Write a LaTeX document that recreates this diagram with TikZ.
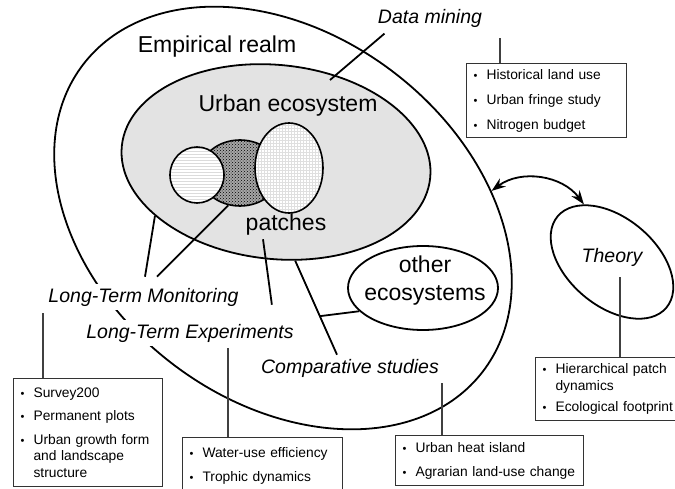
\documentclass[tikz,border=0pt]{standalone}
\usepackage{graphicx}
\usepackage{fontspec}
\setmainfont{Liberation Sans}
\usetikzlibrary{shapes.geometric,patterns,arrows.meta}

% bullet items for the study boxes
\newcommand{\itm}[1]{\makebox[13pt][l]{\scalebox{0.8}{\textbullet}}#1}
\newcommand{\itc}[1]{\hspace*{13pt}#1}

\begin{document}
\begin{tikzpicture}[x=1pt, y=1pt,
    realm/.style={ellipse, draw, line width=1.8pt, inner sep=0pt},
    patch/.style={ellipse, draw, line width=1.6pt, inner sep=0pt},
    big/.style={font=\fontsize{23}{28}\selectfont, align=center},
    method/.style={font=\fontsize{19.5}{22}\selectfont\itshape, fill=white, inner sep=4pt},
    link/.style={line width=1.8pt},
    tick/.style={line width=1.1pt, black!75},
    listbox/.style={draw=black!80, line width=1.1pt, fill=white, anchor=north west,
        align=left, inner xsep=7pt, font=\fontsize{13.8}{16.5}\selectfont}]
    \useasboundingbox (0,0) rectangle (675,488);
    \clip (0,0) rectangle (675,488);

    % Empirical realm with the urban ecosystem in it
    \node[realm, minimum width=504pt, minimum height=366pt, rotate=-37.6] (empirical) at (283,270) {};
    \node[realm, fill=gray!22, minimum width=310pt, minimum height=194pt, rotate=-6] (urban) at (276,326) {};
    \node[big] (empiricallbl) at (217,441) {Empirical realm};
    \node[big] (urbanlbl) at (288,382) {Urban ecosystem};

    % Patches
    \node[patch, minimum width=80pt, minimum height=66pt, preaction={fill=gray!70},
        pattern=crosshatch dots, pattern color=black] (patchB) at (240,315) {};
    \node[patch, minimum width=54pt, minimum height=56pt, preaction={fill=white},
        pattern=horizontal lines, pattern color=gray!28] (patchA) at (197,313) {};
    \node[patch, minimum width=68pt, minimum height=90pt, preaction={fill=white},
        pattern=grid, pattern color=gray!25] (patchC) at (289,320) {};
    \node[big] (patcheslbl) at (286,263) {patches};

    % Other ecosystems and theory
    \node[realm, fill=white, minimum width=150pt, minimum height=84pt] (other) at (423,200) {};
    \node[big] (otherlbl) at (425,207) {other\\ecosystems};
    \node[realm, minimum width=142pt, minimum height=88pt, rotate=-40] (theory) at (612,226) {};
    \node[font=\fontsize{19.5}{22}\selectfont\itshape] (theorylbl) at (612,231) {Theory};
    \draw[link, <->, >={Stealth[length=14pt,width=10pt]}] (empirical.45) to[bend left=45] (theory.156);

    % Approaches
    \node[font=\fontsize{19.5}{22}\selectfont\itshape] (dm) at (430,470) {Data mining};
    \node[method] (ltm) at (143.5,191) {Long-Term Monitoring};
    \node[method] (lte) at (190,155) {Long-Term Experiments};
    \node[method] (cs) at (350,120) {Comparative studies};

    \coordinate (dmend) at (330,408);
    \draw[link] ([xshift=10pt,yshift=-3pt]dm.south west) -- (dmend);
    \draw[link] ([xshift=1.5pt,yshift=7pt]ltm.north) -- (urban.210);
    \draw[link] ([xshift=13.5pt,yshift=7pt]ltm.north) -- (patchB.250);
    \draw[link] ([xshift=-26pt,yshift=15pt]lte.north east) -- ([xshift=-23pt]patcheslbl.south);
    \draw[link] ([xshift=-13pt]cs.north) -- coordinate[pos=0.41] (fork) (urban.287);
    \draw[link] (fork) -- (other.200);

    % Study boxes
    \node[listbox, text width=146pt, minimum height=74pt] (dmbox) at (466,425)
        {\itm{Historical land use}\\[8.5pt]\itm{Urban fringe study}\\[8.5pt]\itm{Nitrogen budget}};
    \node[listbox, text width=140pt, minimum height=63pt] (thbox) at (535,131)
        {\itm{Hierarchical patch}\\\itc{dynamics}\\[5pt]\itm{Ecological footprint}};
    \node[listbox, text width=135pt, minimum height=108pt] (svbox) at (13,110)
        {\itm{Survey200}\\[7pt]\itm{Permanent plots}\\[7pt]\itm{Urban growth form}\\\itc{and landscape}\\\itc{structure}};
    \node[listbox, text width=146pt, minimum height=56pt] (wubox) at (182,51)
        {\itm{Water-use efficiency}\\[7.5pt]\itm{Trophic dynamics}};
    \node[listbox, text width=174pt, minimum height=50pt] (uhbox) at (395,53)
        {\itm{Urban heat island}\\[7.5pt]\itm{Agrarian land-use change}};

    \draw[tick] ([xshift=34pt]dmbox.north west) -- ++(0,25);
    \draw[tick] ([xshift=85pt]thbox.north west) -- ++(0,80);
    \draw[tick] ([xshift=30pt]svbox.north west) -- ++(0,65);
    \draw[tick] ([xshift=46pt]wubox.north west) -- ++(0,89);
    \draw[tick] ([xshift=47pt]uhbox.north west) -- ++(0,52);
\end{tikzpicture}
\end{document}
